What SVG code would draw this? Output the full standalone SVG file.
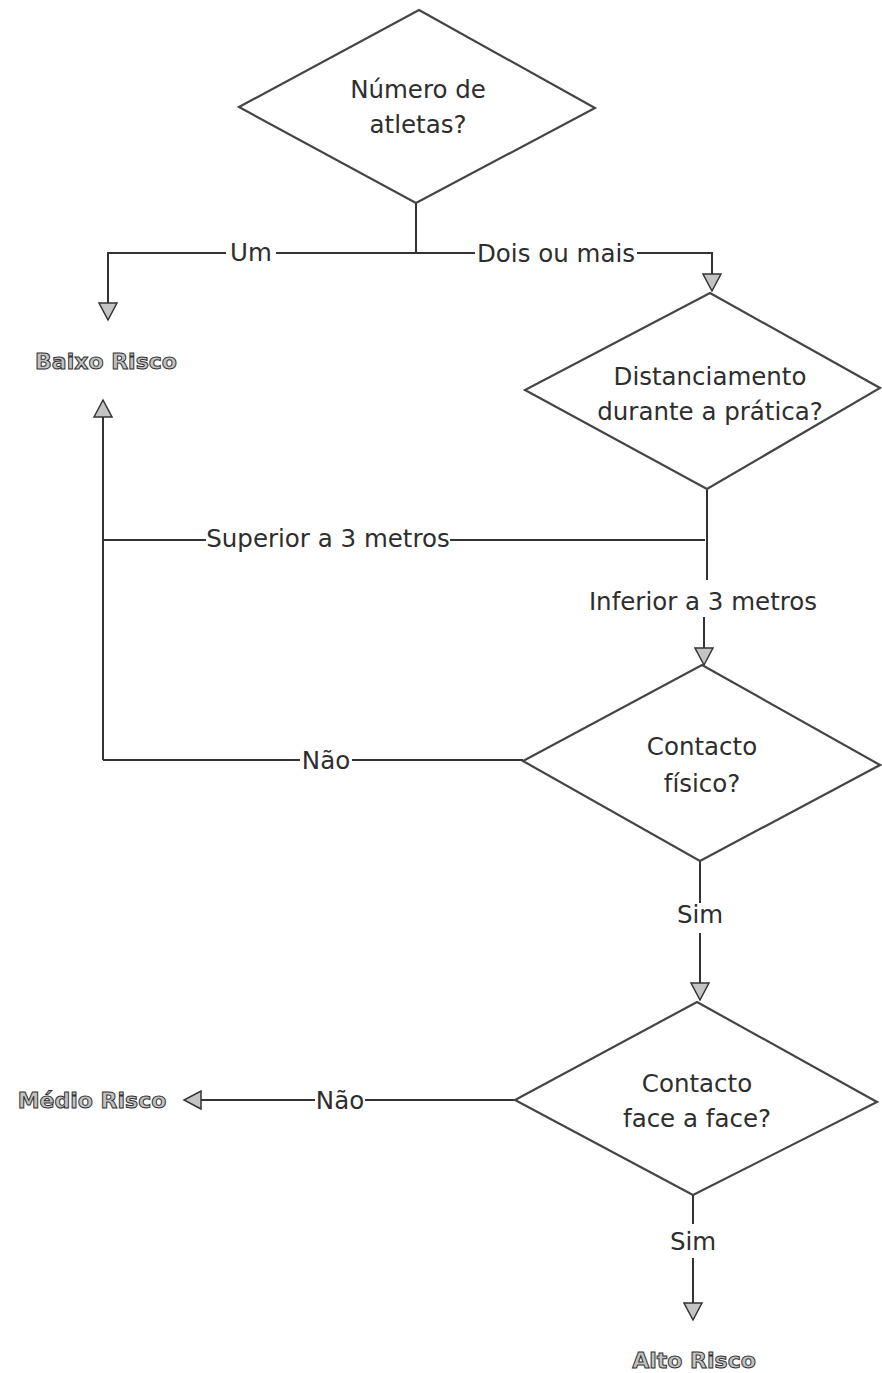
<svg xmlns="http://www.w3.org/2000/svg" width="882" height="1373" viewBox="0 0 882 1373">
<style>
.node{fill:#ffffff;stroke:#454545;stroke-width:2.2;stroke-linejoin:miter}
.t{font-family:"DejaVu Sans",Verdana,sans-serif;font-size:24.5px;fill:#2e2e2e;text-anchor:middle}
.end{font-family:"DejaVu Sans",Verdana,sans-serif;font-size:22px;font-weight:bold;fill:#c2c2c2;stroke:#333333;stroke-width:1;text-anchor:middle}
.c{fill:none;stroke:#333333;stroke-width:2}
</style>
<defs>
<marker id="arr" markerUnits="userSpaceOnUse" markerWidth="20" markerHeight="20" refX="17" refY="9" orient="auto" viewBox="-1 -1 20 20">
<path d="M0,0 L17,9 L0,18 z" fill="#c4c4c4" stroke="#333333" stroke-width="1.5"/>
</marker>
</defs>
<rect width="882" height="1373" fill="#ffffff"/>
<g id="connectors">
<path class="c" d="M416,203 V253"/>
<path class="c" d="M226,253 H108 V320" marker-end="url(#arr)"/>
<path class="c" d="M276,253 H475"/>
<path class="c" d="M637,253 H712 V291" marker-end="url(#arr)"/>
<path class="c" d="M707,489 V580"/>
<path class="c" d="M704,617 V665" marker-end="url(#arr)"/>
<path class="c" d="M705,540 H450"/>
<path class="c" d="M206,540 H103"/>
<path class="c" d="M103,760 V400" marker-end="url(#arr)"/>
<path class="c" d="M523,760 H352"/>
<path class="c" d="M300,760 H103"/>
<path class="c" d="M700,861 V903"/>
<path class="c" d="M700,933 V1000" marker-end="url(#arr)"/>
<path class="c" d="M515,1100 H365"/>
<path class="c" d="M315,1100 H184" marker-end="url(#arr)"/>
<path class="c" d="M693,1195 V1224"/>
<path class="c" d="M693,1258 V1320" marker-end="url(#arr)"/>
<text class="t" x="251" y="261">Um</text>
<text class="t" x="556" y="262">Dois ou mais</text>
<text class="t" x="328" y="547">Superior a 3 metros</text>
<text class="t" x="703" y="610">Inferior a 3 metros</text>
<text class="t" x="326" y="769">Não</text>
<text class="t" x="700" y="923">Sim</text>
<text class="t" x="340" y="1109">Não</text>
<text class="t" x="693" y="1250">Sim</text>
</g>
<g id="n-atletas">
<polygon class="node" points="419,10 595,108 416,203 239,107"/>
<text class="t" x="418" y="98">Número de</text>
<text class="t" x="418" y="133">atletas?</text>
</g>
<g id="n-distanciamento">
<polygon class="node" points="710,293 880,388 707,489 525,390"/>
<text class="t" x="710" y="385">Distanciamento</text>
<text class="t" x="710" y="420">durante a prática?</text>
</g>
<g id="n-contacto-fisico">
<polygon class="node" points="702,665 880,765 700,861 523,761"/>
<text class="t" x="702" y="755">Contacto</text>
<text class="t" x="702" y="792">físico?</text>
</g>
<g id="n-face">
<polygon class="node" points="697,1002 877,1102 693,1195 515,1100"/>
<text class="t" x="697" y="1092">Contacto</text>
<text class="t" x="697" y="1127">face a face?</text>
</g>
<g id="n-baixo">
<text class="end" x="106" y="369">Baixo Risco</text>
</g>
<g id="n-medio">
<text class="end" x="92" y="1108">Médio Risco</text>
</g>
<g id="n-alto">
<text class="end" x="694" y="1368">Alto Risco</text>
</g>
</svg>
